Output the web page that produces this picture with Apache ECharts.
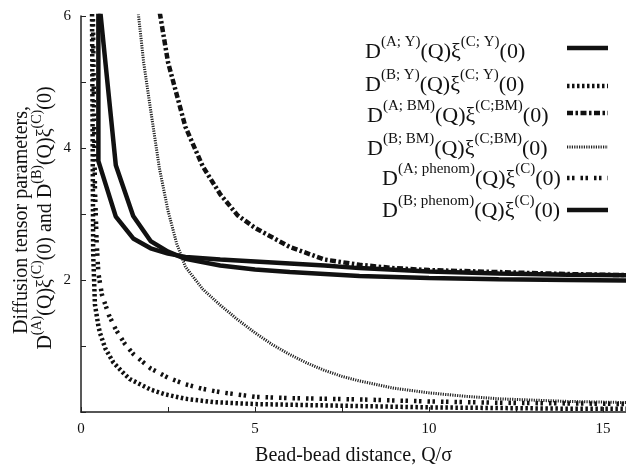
<!DOCTYPE html>
<html><head><meta charset="utf-8">
<script src="https://cdn.jsdelivr.net/npm/echarts@6/dist/echarts.min.js"></script>
<style>html,body{margin:0;padding:0;background:#fff}#c{width:626px;height:471px}</style>
</head><body><div id="c"></div>
<script>
// ---- data ----
const xLabelValues = [0, 5, 10, 15];
const yLabelValues = [2, 4, 6];

const aY_x = [0.48, 0.5, 1.0, 1.5, 2.0, 2.5, 3.0, 4.0, 5.0, 6.0, 7.0, 8.0, 10.0, 12.0, 14.0, 16.0];
const aY_y = [40, 3.8, 2.96, 2.63, 2.48, 2.40, 2.35, 2.31, 2.28, 2.25, 2.22, 2.18, 2.13, 2.10, 2.08, 2.07];

const bY_x = [0.3, 0.35, 0.4, 0.5, 0.55, 0.7, 0.93, 1.2, 1.4, 2.0, 2.4, 3.0, 3.8, 5.0, 6.0, 8.0, 10.0, 12.0, 14.0, 16.0];
const bY_y = [8, 2.4, 1.63, 1.3, 1.19, 0.96, 0.75, 0.6, 0.5, 0.34, 0.27, 0.2, 0.15, 0.12, 0.11, 0.09, 0.07, 0.06, 0.05, 0.05];

const aBM_x = [2.2, 2.5, 3.0, 3.5, 4.0, 4.5, 5.0, 6.0, 7.0, 8.0, 9.0, 10.0, 12.0, 14.0, 16.0];
const aBM_y = [6.25, 5.3, 4.32, 3.72, 3.3, 2.98, 2.79, 2.5, 2.31, 2.23, 2.18, 2.15, 2.12, 2.09, 2.07];

const bBM_x = [1.55, 1.8, 2.0, 2.25, 2.5, 2.75, 3.0, 3.5, 4.0, 4.5, 5.0, 5.5, 6.0, 6.5, 7.0, 7.5, 8.0, 9.0, 10.0, 11.0, 12.0, 14.0, 16.0];
const bBM_y = [6.5, 5.3, 4.58, 3.7, 3.05, 2.55, 2.2, 1.86, 1.62, 1.4, 1.2, 1.02, 0.87, 0.74, 0.63, 0.54, 0.47, 0.36, 0.29, 0.24, 0.2, 0.16, 0.14];

const aPh_x = [0.3, 0.4, 0.45, 0.5, 0.6, 0.8, 1.0, 1.25, 1.5, 2.0, 2.5, 3.0, 3.5, 4.0, 5.0, 6.0, 8.0, 10.0, 12.0, 14.0, 16.0];
const aPh_y = [8, 3.4, 2.56, 2.1, 1.78, 1.47, 1.25, 1.04, 0.88, 0.66, 0.52, 0.42, 0.35, 0.3, 0.23, 0.21, 0.19, 0.16, 0.14, 0.13, 0.12];

const bPh_x = [0.48, 0.5, 1.0, 1.5, 2.0, 2.5, 3.0, 4.0, 5.0, 6.0, 7.0, 8.0, 10.0, 12.0, 14.0, 16.0];
const bPh_y = [40, 6.35, 3.74, 2.97, 2.59, 2.43, 2.32, 2.22, 2.16, 2.12, 2.09, 2.06, 2.03, 2.01, 2.0, 1.99];

// ---- styles ----
const SERIF = '"Liberation Serif", "DejaVu Serif", serif';
const INK = '#111';
const styles = {
  aY:  { width: 4.5, type: 'solid', color: INK },
  bY:  { width: 4.5, type: [2.5, 2.5], color: INK },
  aBM: { width: 4.5, type: [6, 2.5, 2.5, 2.5], color: INK },
  bBM: { width: 3,   type: [1.2, 1.2], color: '#222' },
  aPh: { width: 4.5, type: [2.5, 2.5, 2.5, 6], color: INK },
  bPh: { width: 4.5, type: 'solid', color: INK }
};
function pts(xs, ys) { return xs.map((x, i) => [x, ys[i]]); }
function mk(name, xs, ys, st) {
  return { name, type: 'line', data: pts(xs, ys), symbol: 'none', smooth: false, clip: true,
    lineStyle: { width: st.width, type: st.type, color: st.color, cap: 'butt' }, silent: true, animation: false };
}

const mainRich = (fs, sfs) => ({
  m: { fontSize: fs, fontFamily: SERIF, lineHeight: fs + 6, verticalAlign: 'bottom', fill: INK, color: INK },
  s: { fontSize: sfs, fontFamily: SERIF, lineHeight: fs + 6, verticalAlign: 'top', fill: INK, color: INK }
});

const legendRows = [
  { text: '{m|D}{s|(A; Y)}{m|(Q)ξ}{s|(C; Y)}{m|(0)}', key: 'aY', x: 365, y: 49, ly: 48 },
  { text: '{m|D}{s|(B; Y)}{m|(Q)ξ}{s|(C; Y)}{m|(0)}', key: 'bY', x: 365, y: 82, ly: 86 },
  { text: '{m|D}{s|(A; BM)}{m|(Q)ξ}{s|(C;BM)}{m|(0)}', key: 'aBM', x: 367, y: 113, ly: 113 },
  { text: '{m|D}{s|(B; BM)}{m|(Q)ξ}{s|(C;BM)}{m|(0)}', key: 'bBM', x: 367, y: 146, ly: 147 },
  { text: '{m|D}{s|(A; phenom)}{m|(Q)ξ}{s|(C)}{m|(0)}', key: 'aPh', x: 382, y: 176, ly: 178 },
  { text: '{m|D}{s|(B; phenom)}{m|(Q)ξ}{s|(C)}{m|(0)}', key: 'bPh', x: 382, y: 208, ly: 210 }
];

const graphics = [];
legendRows.forEach(r => {
  graphics.push({ type: 'text', x: r.x, y: r.y, silent: true,
    style: { text: r.text, rich: mainRich(22, 15), textAlign: 'left', textVerticalAlign: 'middle', fill: INK } });
  const st = styles[r.key];
  graphics.push({ type: 'line', silent: true, shape: { x1: 567, y1: r.ly, x2: 608, y2: r.ly },
    style: { stroke: st.color, lineWidth: st.width, lineDash: st.type === 'solid' ? null : st.type } });
});
// y axis title (two rotated lines)
graphics.push({ type: 'text', x: 22, y: 220, rotation: Math.PI / 2, silent: true,
  style: { text: 'Diffusion tensor parameters,', font: '20px ' + SERIF, textAlign: 'center', textVerticalAlign: 'middle', fill: INK } });
graphics.push({ type: 'text', x: 43, y: 218, rotation: Math.PI / 2, silent: true,
  style: { text: '{m|D}{s|(A)}{m|(Q)ξ}{s|(C)}{m|(0) and D}{s|(B)}{m|(Q)ξ}{s|(C)}{m|(0)}', rich: mainRich(20, 14),
    textAlign: 'center', textVerticalAlign: 'middle', fill: INK } });

const chart = echarts.init(document.getElementById('c'), null, { renderer: 'canvas' });
chart.setOption({
  animation: false,
  backgroundColor: '#fff',
  grid: { left: 81, top: 16, right: 0, bottom: 47, containLabel: false },
  xAxis: [{
    type: 'value', min: 0, max: 15.66, interval: 2.5,
    name: 'Bead-bead distance, Q/σ', nameLocation: 'middle', nameGap: 34,
    nameTextStyle: { fontFamily: SERIF, fontSize: 20, color: INK },
    axisLine: { show: true, onZero: false, lineStyle: { color: '#222', width: 1.5 } },
    axisTick: { show: true, inside: true, length: 5, lineStyle: { color: '#222', width: 1 } },
    axisLabel: { margin: 10, fontFamily: SERIF, fontSize: 15, color: INK, showMaxLabel: false,
      formatter: v => (xLabelValues.indexOf(v) >= 0 ? String(v) : '') },
    splitLine: { show: false }
  }, {
    type: 'value', position: 'top', min: 0, max: 15.66,
    axisLine: { show: true, lineStyle: { color: '#555', width: 1.5 } },
    axisTick: { show: false }, axisLabel: { show: false }, splitLine: { show: false }
  }],
  yAxis: {
    type: 'value', min: 0, max: 6, interval: 1,
    axisLine: { show: true, lineStyle: { color: '#222', width: 1.5 } },
    axisTick: { show: true, inside: true, length: 5, lineStyle: { color: '#222', width: 1 } },
    axisLabel: { margin: 10, fontFamily: SERIF, fontSize: 15, color: INK,
      formatter: v => (yLabelValues.indexOf(v) >= 0 ? String(v) : '') },
    splitLine: { show: false }
  },
  series: [
    mk('D(A;Y)', aY_x, aY_y, styles.aY),
    mk('D(B;Y)', bY_x, bY_y, styles.bY),
    mk('D(A;BM)', aBM_x, aBM_y, styles.aBM),
    mk('D(B;BM)', bBM_x, bBM_y, styles.bBM),
    mk('D(A;phenom)', aPh_x, aPh_y, styles.aPh),
    mk('D(B;phenom)', bPh_x, bPh_y, styles.bPh)
  ],
  graphic: graphics
});
</script></body></html>
